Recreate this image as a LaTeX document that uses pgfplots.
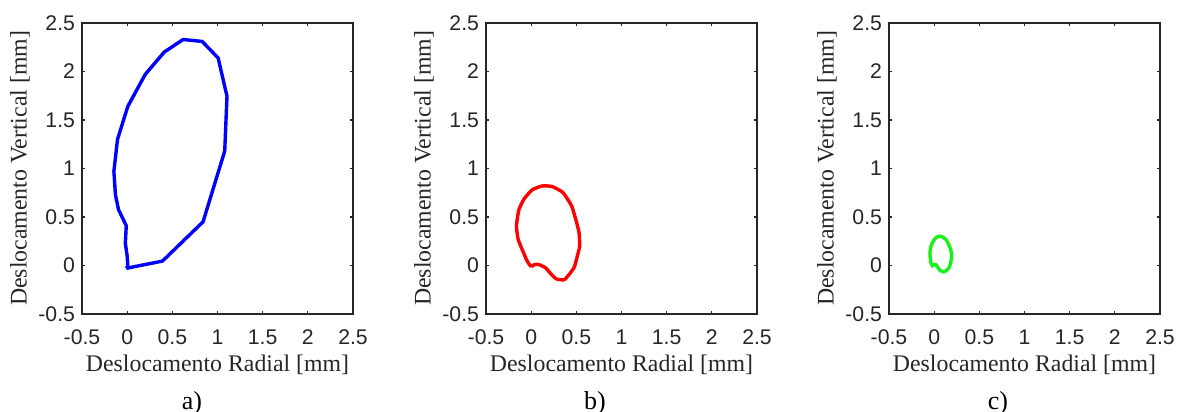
\documentclass[border=0pt]{standalone}
\usepackage{fontspec}
\setmainfont{Liberation Serif}
\newfontfamily\ticksf{Liberation Sans}
\usepackage{pgfplots}
\pgfplotsset{compat=1.18}
\definecolor{axgray}{rgb}{0.15,0.15,0.15}
\definecolor{mgreen}{rgb}{0.1,0.95,0.1}
\pgfplotsset{
  panel/.style={
    scale only axis, width=135.5pt, height=145.5pt, anchor=south west,
    xmin=-0.5, xmax=2.5, ymin=-0.5, ymax=2.5,
    xtick={-0.5,0,0.5,1,1.5,2,2.5}, ytick={-0.5,0,0.5,1,1.5,2,2.5},
    xticklabels={-0.5,0,0.5,1,1.5,2,2.5}, yticklabels={-0.5,0,0.5,1,1.5,2,2.5},
    tick align=inside, major tick length=1.6pt,
    axis line style={axgray, line width=0.6pt},
    every tick/.style={axgray, line width=0.6pt},
    tick label style={font=\ticksf\fontsize{10.6pt}{12pt}\selectfont, text=axgray},
    xticklabel style={anchor=center, yshift=-11.5pt},
    /pgf/number format/assume math mode=true,
    xlabel={Deslocamento Radial [mm]}, ylabel={Deslocamento Vertical [mm]},
    every axis x label/.style={at={(axis description cs:0.5,0)}, anchor=center, yshift=-25.5pt,
      font=\fontsize{11.9pt}{14pt}\selectfont, text=axgray},
    every axis y label/.style={at={(axis description cs:0,0.5)}, anchor=center, xshift=-31pt, rotate=90,
      font=\fontsize{11.9pt}{14pt}\selectfont, text=axgray},
    clip=false,
  }
}
\begin{document}
\begin{tikzpicture}
\path[use as bounding box] (0,0) rectangle (589pt,206pt);
\begin{axis}[panel, at={(41pt,49pt)}]
\addplot[blue, line width=1.7pt, line join=round] coordinates {
(-0.01,-0.03) (0.09,-0.01) (0.39,0.045) (0.84,0.45) (1.08,1.18) (1.105,1.745)
(1.007,2.14) (0.83,2.31) (0.62,2.33) (0.41,2.2) (0.2,1.97) (0.007,1.64)
(-0.107,1.30) (-0.147,0.97) (-0.13,0.73) (-0.096,0.577) (-0.01,0.41)
(-0.02,0.23) (0,0.096) (0.007,-0.007) (-0.01,-0.03)
};
\end{axis}
\begin{axis}[panel, at={(243pt,49pt)}]
\addplot[red, line width=1.7pt, line join=round, smooth, tension=0.3] coordinates {
(0,-0.014) (0.037,0.01) (0.085,0.01) (0.16,-0.024) (0.215,-0.083) (0.278,-0.138)
(0.37,-0.145) (0.474,-0.024) (0.511,0.097) (0.537,0.2) (0.53,0.338) (0.504,0.44)
(0.448,0.614) (0.352,0.752) (0.233,0.814) (0.122,0.82) (0.011,0.78) (-0.081,0.683)
(-0.137,0.572) (-0.163,0.407) (-0.144,0.269) (-0.089,0.141) (-0.044,0.045) (0,-0.014)
};
\end{axis}
\begin{axis}[panel, at={(444.5pt,49pt)}]
\addplot[mgreen, line width=1.7pt, line join=round, smooth, tension=0.4] coordinates {
(-0.007,-0.017) (-0.036,0.028) (-0.047,0.131) (-0.029,0.217) (0.018,0.286)
(0.073,0.303) (0.135,0.262) (0.182,0.166) (0.193,0.079) (0.164,-0.024)
(0.109,-0.066) (0.062,-0.048) (0.018,0.01) (-0.012,0)
};
\end{axis}
\node[font=\fontsize{13pt}{15pt}\selectfont] at (96pt,4.5pt) {a)};
\node[font=\fontsize{13pt}{15pt}\selectfont] at (297.5pt,4.5pt) {b)};
\node[font=\fontsize{13pt}{15pt}\selectfont] at (499pt,4.5pt) {c)};
\end{tikzpicture}
\end{document}
